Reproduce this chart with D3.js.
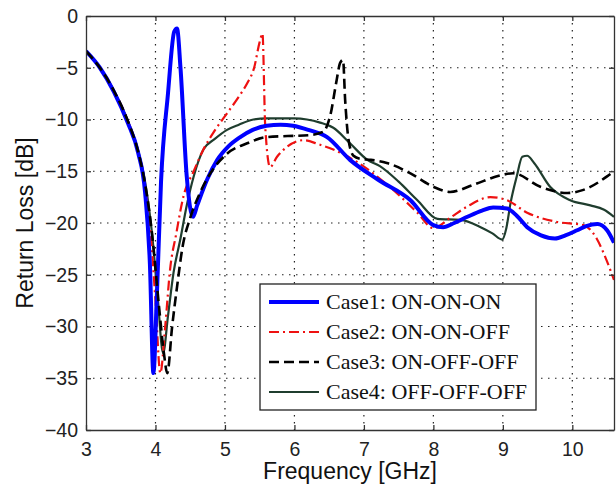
<!DOCTYPE html>
<html>
<head>
<meta charset="utf-8">
<script src="https://cdn.jsdelivr.net/npm/d3@7"></script>
<style>
  html, body { margin: 0; padding: 0; background: #fff; }
  svg { display: block; }
</style>
</head>
<body>
<svg id="chart" width="616" height="488"></svg>
<script>
// ---------------- data ----------------
const xTicks = [3, 4, 5, 6, 7, 8, 9, 10];
const yTicks = [0, -5, -10, -15, -20, -25, -30, -35, -40];

const freqCase1 = [3.0, 3.2, 3.4, 3.6, 3.75, 3.85, 3.92, 3.97, 4.02, 4.08, 4.18, 4.27, 4.31, 4.36, 4.45, 4.54, 4.6, 4.75, 4.89, 5.05, 5.22, 5.4, 5.6, 5.8, 5.98, 6.2, 6.47, 6.8, 7.2, 7.67, 8.0, 8.14, 8.3, 8.49, 8.7, 8.86, 9.06, 9.2, 9.35, 9.55, 9.75, 9.9, 10.07, 10.2, 10.36, 10.5, 10.6];
const lossCase1 = [-3.4, -5.0, -7.3, -10.3, -13.2, -17.0, -24.0, -34.5, -27.0, -16.0, -7.5, -1.5, -1.2, -5.0, -15.5, -19.4, -18.3, -15.7, -13.9, -12.6, -11.7, -11.0, -10.6, -10.5, -10.6, -11.0, -11.7, -13.9, -15.8, -17.8, -20.2, -20.4, -20.0, -19.4, -18.8, -18.5, -18.6, -19.3, -20.4, -21.2, -21.5, -21.2, -20.7, -20.3, -20.1, -20.7, -21.9];

const freqCase2 = [3.0, 3.2, 3.4, 3.6, 3.75, 3.85, 3.93, 4.0, 4.07, 4.14, 4.21, 4.3, 4.4, 4.55, 4.69, 4.85, 5.03, 5.2, 5.32, 5.42, 5.5, 5.54, 5.58, 5.65, 5.75, 5.9, 6.13, 6.35, 6.56, 6.9, 7.3, 7.77, 8.0, 8.24, 8.49, 8.82, 9.06, 9.35, 9.78, 10.16, 10.35, 10.45, 10.6];
const lossCase2 = [-3.4, -5.0, -7.2, -10.1, -13.2, -16.5, -21.0, -27.5, -34.5, -30.0, -24.5, -21.0, -17.5, -15.0, -12.9, -11.1, -9.4, -7.8, -6.5, -5.0, -2.5, -1.7, -10.7, -14.6, -13.6, -12.6, -12.0, -12.4, -12.9, -14.1, -16.1, -19.0, -20.5, -19.5, -18.4, -17.5, -17.8, -19.0, -19.9, -20.2, -21.5, -22.9, -25.5];

const freqCase3 = [3.0, 3.2, 3.4, 3.6, 3.75, 3.85, 3.95, 4.05, 4.12, 4.17, 4.24, 4.31, 4.39, 4.5, 4.64, 4.79, 5.03, 5.32, 5.6, 5.9, 6.23, 6.41, 6.52, 6.6, 6.66, 6.7, 6.73, 6.78, 6.85, 6.95, 7.1, 7.33, 7.67, 8.0, 8.24, 8.58, 8.96, 9.15, 9.54, 9.93, 10.16, 10.5, 10.6];
const lossCase3 = [-3.4, -5.0, -7.2, -10.1, -13.1, -16.2, -21.0, -28.0, -32.5, -34.5, -30.0, -26.2, -22.3, -19.5, -17.1, -15.2, -13.3, -12.3, -11.7, -11.6, -11.5, -11.2, -9.5, -6.5, -4.5, -4.25, -8.1, -12.0, -13.5, -13.8, -13.9, -14.2, -15.2, -16.5, -17.0, -16.3, -15.4, -15.2, -16.5, -17.1, -16.8, -15.5, -15.0];

const freqCase4 = [3.0, 3.2, 3.4, 3.6, 3.75, 3.85, 3.95, 4.03, 4.11, 4.18, 4.26, 4.36, 4.45, 4.55, 4.69, 4.85, 5.03, 5.2, 5.41, 5.6, 5.8, 6.0, 6.18, 6.37, 6.56, 6.8, 7.05, 7.23, 7.5, 7.77, 8.06, 8.39, 8.68, 8.85, 8.99, 9.05, 9.11, 9.2, 9.28, 9.35, 9.45, 9.68, 9.97, 10.26, 10.45, 10.6];
const lossCase4 = [-3.4, -5.0, -7.2, -10.1, -13.0, -16.0, -21.0, -27.0, -32.6, -29.0, -24.8, -21.5, -18.3, -15.5, -12.9, -11.9, -11.0, -10.5, -10.0, -9.9, -9.9, -9.9, -10.0, -10.3, -10.8, -12.3, -13.9, -14.5, -16.0, -17.8, -19.6, -19.7, -20.4, -21.0, -21.6, -20.5, -18.1, -15.5, -13.6, -13.5, -14.2, -16.5, -17.8, -18.3, -18.7, -19.4];

const seriesNames = ["Case1: ON-ON-ON", "Case2: ON-ON-OFF", "Case3: ON-OFF-OFF", "Case4: OFF-OFF-OFF"];

// ---------------- drawing ----------------
const svg = d3.select("#chart");
const plot = { left: 86, right: 614, top: 16, bottom: 430 };

const x = d3.scaleLinear().domain([3, 10.6]).range([plot.left, plot.right]);
const y = d3.scaleLinear().domain([-40, 0]).range([plot.bottom, plot.top]);

const styles = [
  { color: "#0000ff", width: 4, dash: null },
  { color: "#ee1111", width: 2.2, dash: "10,4,2,4" },
  { color: "#000000", width: 2.6, dash: "10,5" },
  { color: "#1f3d2e", width: 2.2, dash: null }
];

const series = [
  { f: freqCase1, v: lossCase1 },
  { f: freqCase2, v: lossCase2 },
  { f: freqCase3, v: lossCase3 },
  { f: freqCase4, v: lossCase4 }
];

// grid
const grid = svg.append("g");
xTicks.filter(t => t > 3).forEach(t => {
  grid.append("line")
    .attr("x1", x(t)).attr("x2", x(t))
    .attr("y1", plot.top).attr("y2", plot.bottom)
    .attr("stroke", "#222").attr("stroke-width", 1.2)
    .attr("stroke-dasharray", "1.5,5.5");
});
yTicks.filter(t => t > -40 && t < 0).forEach(t => {
  grid.append("line")
    .attr("x1", plot.left).attr("x2", plot.right)
    .attr("y1", y(t)).attr("y2", y(t))
    .attr("stroke", "#222").attr("stroke-width", 1.2)
    .attr("stroke-dasharray", "1.5,5.5");
});

// clip
svg.append("clipPath").attr("id", "clip")
  .append("rect").attr("x", plot.left).attr("y", plot.top)
  .attr("width", plot.right - plot.left).attr("height", plot.bottom - plot.top);

const line = d3.line()
  .x(d => x(d[0])).y(d => y(d[1]))
  .curve(d3.curveMonotoneX);

const lines = svg.append("g").attr("clip-path", "url(#clip)");
// draw order: case4, case2, case1, case3
[3, 1, 0, 2].forEach(i => {
  const s = series[i];
  const pts = s.f.map((f, k) => [f, s.v[k]]);
  lines.append("path")
    .attr("d", line(pts))
    .attr("fill", "none")
    .attr("stroke", styles[i].color)
    .attr("stroke-width", styles[i].width)
    .attr("stroke-linejoin", "round")
    .attr("stroke-dasharray", styles[i].dash);
});

// axes (box + inward ticks)
const bottomAxis = d3.axisBottom(x).tickValues(xTicks).tickSizeInner(-5).tickSizeOuter(0).tickPadding(12).tickFormat(d3.format("d"));
const leftAxis = d3.axisLeft(y).tickValues(yTicks).tickSizeInner(-5).tickSizeOuter(0).tickPadding(8).tickFormat(d3.format("d"));
const topAxis = d3.axisTop(x).tickValues(xTicks).tickSizeInner(-5).tickSizeOuter(0).tickFormat("");
const rightAxis = d3.axisRight(y).tickValues(yTicks).tickSizeInner(-5).tickSizeOuter(0).tickFormat("");

function styleAxis(g) {
  g.selectAll(".domain").attr("stroke", "#333").attr("stroke-width", 1.3);
  g.selectAll(".tick line").attr("stroke", "#333").attr("stroke-width", 1.3);
  g.selectAll(".tick text").attr("fill", "#222")
    .style("font-family", "'Liberation Sans', Arial, sans-serif").style("font-size", "19.5px");
}
svg.append("g").attr("transform", `translate(0,${plot.bottom})`).call(bottomAxis).call(styleAxis);
svg.append("g").attr("transform", `translate(${plot.left},0)`).call(leftAxis).call(styleAxis);
svg.append("g").attr("transform", `translate(0,${plot.top})`).call(topAxis).call(styleAxis);
svg.append("g").attr("transform", `translate(${plot.right},0)`).call(rightAxis).call(styleAxis);

// axis labels
svg.append("text")
  .attr("x", (plot.left + plot.right) / 2).attr("y", 479)
  .attr("text-anchor", "middle")
  .style("font-family", "'Liberation Sans', Arial, sans-serif").style("font-size", "23px")
  .attr("fill", "#111")
  .text("Frequency [GHz]");
svg.append("text")
  .attr("transform", `translate(33,${(plot.top + plot.bottom) / 2}) rotate(-90)`)
  .attr("text-anchor", "middle")
  .style("font-family", "'Liberation Sans', Arial, sans-serif").style("font-size", "23px")
  .attr("fill", "#111")
  .text("Return Loss [dB]");

// legend
const leg = svg.append("g");
leg.append("rect")
  .attr("x", 260).attr("y", 284).attr("width", 276).attr("height", 126)
  .attr("fill", "#fff").attr("stroke", "#222").attr("stroke-width", 1.3);
const rowY = [302, 332, 362, 392];
seriesNames.forEach((name, i) => {
  leg.append("line")
    .attr("x1", 269).attr("x2", 319).attr("y1", rowY[i]).attr("y2", rowY[i])
    .attr("stroke", styles[i].color).attr("stroke-width", styles[i].width)
    .attr("stroke-dasharray", styles[i].dash);
  leg.append("text")
    .attr("x", 326).attr("y", rowY[i] + 7)
    .style("font-family", "'Liberation Serif', 'Times New Roman', serif").style("font-size", "22px")
    .attr("fill", "#111")
    .text(name);
});
</script>
</body>
</html>
